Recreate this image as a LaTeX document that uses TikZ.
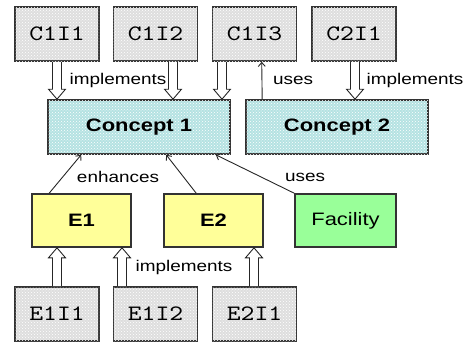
\documentclass[tikz,border=0pt]{standalone}
\usepackage{fontspec}
\setmainfont[FakeStretch=1.22]{Liberation Sans}
\newfontfamily\monof[FakeStretch=1.2]{lmmono10-regular.otf}
\usetikzlibrary{calc,arrows.meta,patterns}
\definecolor{bordc}{HTML}{333333}
\definecolor{grayf}{HTML}{DEDEDE}
\definecolor{cyanf}{HTML}{B4E2E2}
\definecolor{yelf}{HTML}{FFFF99}
\definecolor{grnf}{HTML}{99FF99}
\tikzset{
  boxbase/.style={draw=bordc, line width=1.6pt, rectangle, inner sep=0pt},
  implbox/.style={boxbase, fill=grayf, minimum width=84pt, minimum height=54pt,
    font=\monof\fontsize{22}{24}\selectfont, postaction={pattern=crosshatch dots, pattern color=white}},
  conceptbox/.style={boxbase, fill=cyanf, minimum width=182pt, minimum height=54pt,
    font=\bfseries\fontsize{18}{20}\selectfont, postaction={pattern=crosshatch dots, pattern color=white}},
  enhbox/.style={boxbase, fill=yelf, minimum width=99pt, minimum height=53pt,
    font=\bfseries\fontsize{18}{20}\selectfont},
  facbox/.style={boxbase, fill=grnf, minimum width=101pt, minimum height=53pt,
    font=\fontsize{18}{20}\selectfont},
  lbl/.style={font=\fontsize{15.5}{17}\selectfont, inner sep=0pt},
  usesarrow/.style={draw=black!85, line width=0.9pt, -{Straight Barb[length=4pt,width=7pt]}},
  impl/.style={draw=black!85, line width=0.9pt, fill=white, to path={
    let \p1=(\tikztostart), \p2=(\tikztotarget), \p3=($(\x1,\y2)!10pt!(\x1,\y1)$) in
    (\x1-4.5pt,\y1) -- (\x1-4.5pt,\y3) -- (\x1-8.5pt,\y3) -- (\x1,\y2) -- (\x1+8.5pt,\y3) -- (\x1+4.5pt,\y3) -- (\x1+4.5pt,\y1)}}
}
\begin{document}
\begin{tikzpicture}[x=1pt,y=-1pt]
\useasboundingbox (0,0) rectangle (465,345);
% top implementation boxes
\node[implbox] (c1i1) at (57,34) {C1I1};
\node[implbox] (c1i2) at (155.5,34) {C1I2};
\node[implbox] (c1i3) at (254.5,34) {C1I3};
\node[implbox] (c2i1) at (354,34) {C2I1};
% concepts
\node[conceptbox] (c1) at (139,127) {Concept 1};
\node[conceptbox] (c2) at (337,127) {Concept 2};
% enhancements
\node[enhbox] (e1) at (81.5,220.5) {E1};
\node[enhbox] (e2) at (213.5,220.5) {E2};
\node[facbox] (fac) at (345.5,220.5) {Facility};
% bottom implementation boxes
\node[implbox] (e1i1) at (57,314) {E1I1};
\node[implbox] (e1i2) at (155.5,314) {E1I2};
\node[implbox] (e2i1) at (254.5,314) {E2I1};
% implements arrows (top)
\draw[impl] (c1i1.south) to (c1.north);
\draw[impl] ([xshift=17.5pt]c1i2.south) to (c1.north);
\draw[impl] ([xshift=-32.5pt]c1i3.south) to (c1.north);
\draw[impl] ([xshift=1pt]c2i1.south) to (c2.north);
% uses arrow concept 2 -> C1I3
\draw[usesarrow] ([xshift=17pt]c2.north west) -- ([xshift=50pt]c1i3.south west);
% enhances
\draw[usesarrow] ([xshift=18pt]e1.north west) -- ([xshift=34pt]c1.south west);
\draw[usesarrow] ([xshift=33pt]e2.north west) -- ([xshift=119pt]c1.south west);
% facility uses
\draw[usesarrow] (fac.north west) -- ([xshift=-15pt]c1.south east);
% implements arrows (bottom)
\draw[impl] (e1i1.north) to ([xshift=-24.5pt]e1.south);
\draw[impl] ([xshift=-33.5pt]e1i2.north) to (e1.south);
\draw[impl] ([xshift=-0.5pt]e2i1.north) to (e2.south);
% labels
\node[lbl] (limp1) at (118,80) {implements};
\node[lbl] (luse1) at (293,80) {uses};
\node[lbl] (limp2) at (415,80) {implements};
\node[lbl] (lenh) at (118,177) {enhances};
\node[lbl] (luse2) at (305,177) {uses};
\node[lbl] (limp3) at (184,267) {implements};
\end{tikzpicture}
\end{document}
